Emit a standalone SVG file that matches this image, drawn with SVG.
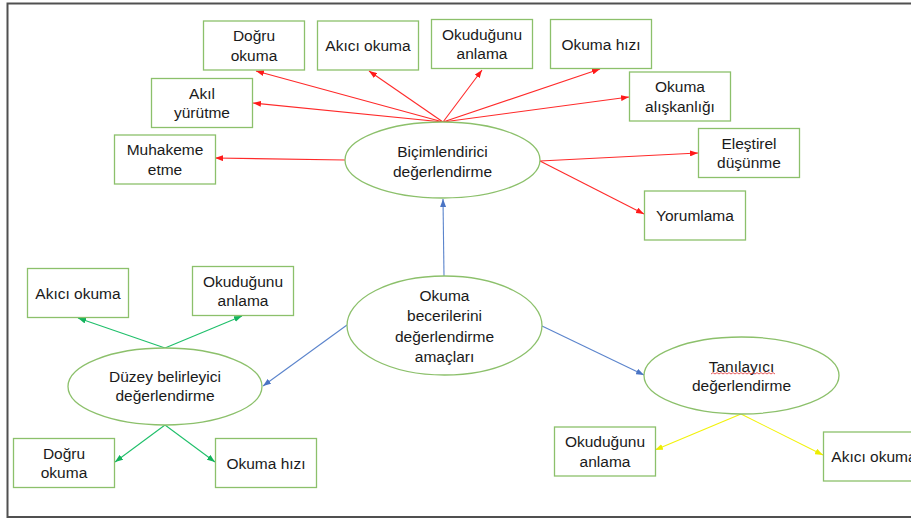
<svg xmlns="http://www.w3.org/2000/svg" width="911" height="520" viewBox="0 0 911 520">
  <style>
    .box { fill: #ffffff; stroke: #8cc06b; stroke-width: 1.3; }
    .oval { fill: #ffffff; stroke: #8cc06b; stroke-width: 1.3; }
    .lbl { font-family: "Liberation Sans", Arial, sans-serif; font-size: 15.5px; fill: #1a1a1a; text-anchor: middle; }
    .red { stroke: #ff2a2a; stroke-width: 1.1; fill: none; marker-end: url(#ah-red); }
    .blue { stroke: #5b84cc; stroke-width: 1.1; fill: none; marker-end: url(#ah-blue); }
    .green { stroke: #1fbf6a; stroke-width: 1.1; fill: none; marker-end: url(#ah-green); }
    .yellow { stroke: #f2f20a; stroke-width: 1.1; fill: none; marker-end: url(#ah-yellow); }
  </style>
  <defs>
    <marker id="ah-red" markerUnits="userSpaceOnUse" markerWidth="8" markerHeight="6" refX="8" refY="3" orient="auto">
      <path d="M0,0 L8,3 L0,6 z" fill="#ff1a1a"/>
    </marker>
    <marker id="ah-blue" markerUnits="userSpaceOnUse" markerWidth="8" markerHeight="6" refX="8" refY="3" orient="auto">
      <path d="M0,0 L8,3 L0,6 z" fill="#4a74c4"/>
    </marker>
    <marker id="ah-green" markerUnits="userSpaceOnUse" markerWidth="8" markerHeight="6" refX="8" refY="3" orient="auto">
      <path d="M0,0 L8,3 L0,6 z" fill="#12b35c"/>
    </marker>
    <marker id="ah-yellow" markerUnits="userSpaceOnUse" markerWidth="8" markerHeight="6" refX="8" refY="3" orient="auto">
      <path d="M0,0 L8,3 L0,6 z" fill="#eded00"/>
    </marker>
  </defs>

  <rect width="911" height="520" fill="#ffffff"/>

  <!-- frame (open on the right) -->
  <path d="M911,3.5 H7.5 V517 H911" fill="none" stroke="#505050" stroke-width="2"/>

  <!-- connectors -->
  <g id="connectors">
    <line class="red" x1="443" y1="122" x2="256" y2="71"/>
    <line class="red" x1="443" y1="122" x2="253" y2="103"/>
    <line class="red" x1="443" y1="122" x2="369" y2="71"/>
    <line class="red" x1="443" y1="122" x2="482" y2="70"/>
    <line class="red" x1="443" y1="122" x2="600" y2="69"/>
    <line class="red" x1="443" y1="122" x2="629" y2="97"/>
    <line class="red" x1="345" y1="160" x2="215" y2="158"/>
    <line class="red" x1="540" y1="161" x2="698" y2="153"/>
    <line class="red" x1="540" y1="161" x2="644" y2="214"/>

    <line class="blue" x1="444" y1="276" x2="443" y2="199"/>
    <line class="blue" x1="347" y1="325" x2="263" y2="386"/>
    <line class="blue" x1="542" y1="326" x2="644" y2="375"/>

    <line class="green" x1="165" y1="348" x2="78" y2="318"/>
    <line class="green" x1="165" y1="348" x2="242" y2="316"/>
    <line class="green" x1="165" y1="425" x2="115" y2="462"/>
    <line class="green" x1="165" y1="425" x2="215" y2="462"/>

    <line class="yellow" x1="741" y1="414" x2="655" y2="450"/>
    <line class="yellow" x1="741" y1="414" x2="823" y2="455"/>
  </g>

  <!-- central node -->
  <g id="n-amaclar">
    <ellipse class="oval" cx="444.5" cy="325.5" rx="97.5" ry="49.5"/>
    <text class="lbl"><tspan x="444.5" y="301">Okuma</tspan><tspan x="444.5" y="321">becerilerini</tspan><tspan x="444.5" y="341.5">değerlendirme</tspan><tspan x="444.5" y="362">amaçları</tspan></text>
  </g>

  <!-- formative assessment -->
  <g id="n-bicimlendirici">
    <ellipse class="oval" cx="442.5" cy="160" rx="97.5" ry="38"/>
    <text class="lbl"><tspan x="442.5" y="157">Biçimlendirici</tspan><tspan x="442.5" y="176.5">değerlendirme</tspan></text>
  </g>
  <g id="b-dogru-okuma">
    <rect class="box" x="203.5" y="21" width="101" height="49"/>
    <text class="lbl"><tspan x="254" y="41">Doğru</tspan><tspan x="254" y="60.5">okuma</tspan></text>
  </g>
  <g id="b-akici-okuma">
    <rect class="box" x="317.5" y="21" width="101" height="49"/>
    <text class="lbl" x="368" y="51">Akıcı okuma</text>
  </g>
  <g id="b-okudugunu-anlama">
    <rect class="box" x="431.5" y="19.5" width="101" height="49"/>
    <text class="lbl"><tspan x="482" y="39.5">Okuduğunu</tspan><tspan x="482" y="59">anlama</tspan></text>
  </g>
  <g id="b-okuma-hizi">
    <rect class="box" x="550.5" y="19.5" width="101" height="49"/>
    <text class="lbl" x="601" y="49.5">Okuma hızı</text>
  </g>
  <g id="b-okuma-aliskanligi">
    <rect class="box" x="629.5" y="72" width="101" height="49"/>
    <text class="lbl"><tspan x="680" y="92">Okuma</tspan><tspan x="680" y="111.5">alışkanlığı</tspan></text>
  </g>
  <g id="b-akil-yurutme">
    <rect class="box" x="151.5" y="78.5" width="101" height="49"/>
    <text class="lbl"><tspan x="202" y="98.5">Akıl</tspan><tspan x="202" y="118">yürütme</tspan></text>
  </g>
  <g id="b-muhakeme-etme">
    <rect class="box" x="114.5" y="135" width="101" height="49"/>
    <text class="lbl"><tspan x="165" y="155">Muhakeme</tspan><tspan x="165" y="174.5">etme</tspan></text>
  </g>
  <g id="b-elestirel-dusunme">
    <rect class="box" x="698.5" y="128.5" width="101" height="49"/>
    <text class="lbl"><tspan x="749" y="148.5">Eleştirel</tspan><tspan x="749" y="168">düşünme</tspan></text>
  </g>
  <g id="b-yorumlama">
    <rect class="box" x="644.5" y="191" width="101" height="49"/>
    <text class="lbl" x="695" y="221">Yorumlama</text>
  </g>

  <!-- placement assessment -->
  <g id="n-duzey-belirleyici">
    <ellipse class="oval" cx="165" cy="386.5" rx="97" ry="38.5"/>
    <text class="lbl"><tspan x="165" y="381.5">Düzey belirleyici</tspan><tspan x="165" y="401">değerlendirme</tspan></text>
  </g>
  <g id="d-akici-okuma">
    <rect class="box" x="27.5" y="268.5" width="101" height="49"/>
    <text class="lbl" x="78" y="299">Akıcı okuma</text>
  </g>
  <g id="d-okudugunu-anlama">
    <rect class="box" x="192.5" y="266.5" width="101" height="49"/>
    <text class="lbl"><tspan x="243" y="286.5">Okuduğunu</tspan><tspan x="243" y="306">anlama</tspan></text>
  </g>
  <g id="d-dogru-okuma">
    <rect class="box" x="13.5" y="438.5" width="101" height="49"/>
    <text class="lbl"><tspan x="64" y="458.5">Doğru</tspan><tspan x="64" y="478">okuma</tspan></text>
  </g>
  <g id="d-okuma-hizi">
    <rect class="box" x="215.5" y="438.5" width="101" height="49"/>
    <text class="lbl" x="266" y="468.5">Okuma hızı</text>
  </g>

  <!-- diagnostic assessment -->
  <g id="n-tanilayici">
    <ellipse class="oval" cx="741.5" cy="375.5" rx="97.5" ry="38.5"/>
    <text class="lbl"><tspan x="741.5" y="371.5">Tanılayıcı</tspan><tspan x="741.5" y="391">değerlendirme</tspan></text>
    <path d="M711,374 l2,-1.4 l2,1.4 l2,-1.4 l2,1.4 l2,-1.4 l2,1.4 l2,-1.4 l2,1.4 l2,-1.4 l2,1.4 l2,-1.4 l2,1.4 l2,-1.4 l2,1.4 l2,-1.4 l2,1.4 l2,-1.4 l2,1.4 l2,-1.4 l2,1.4 l2,-1.4 l2,1.4 l2,-1.4 l2,1.4 l2,-1.4 l2,1.4 l2,-1.4 l2,1.4 l2,-1.4 l2,1.4 l2,-1.4 l2,1.4" fill="none" stroke="#e03030" stroke-width="0.8"/>
  </g>
  <g id="t-okudugunu-anlama">
    <rect class="box" x="554.5" y="427" width="101" height="49"/>
    <text class="lbl"><tspan x="605" y="447">Okuduğunu</tspan><tspan x="605" y="466.5">anlama</tspan></text>
  </g>
  <g id="t-akici-okuma">
    <rect class="box" x="823.5" y="432" width="101" height="49"/>
    <text class="lbl" x="874" y="462">Akıcı okuma</text>
  </g>
</svg>
